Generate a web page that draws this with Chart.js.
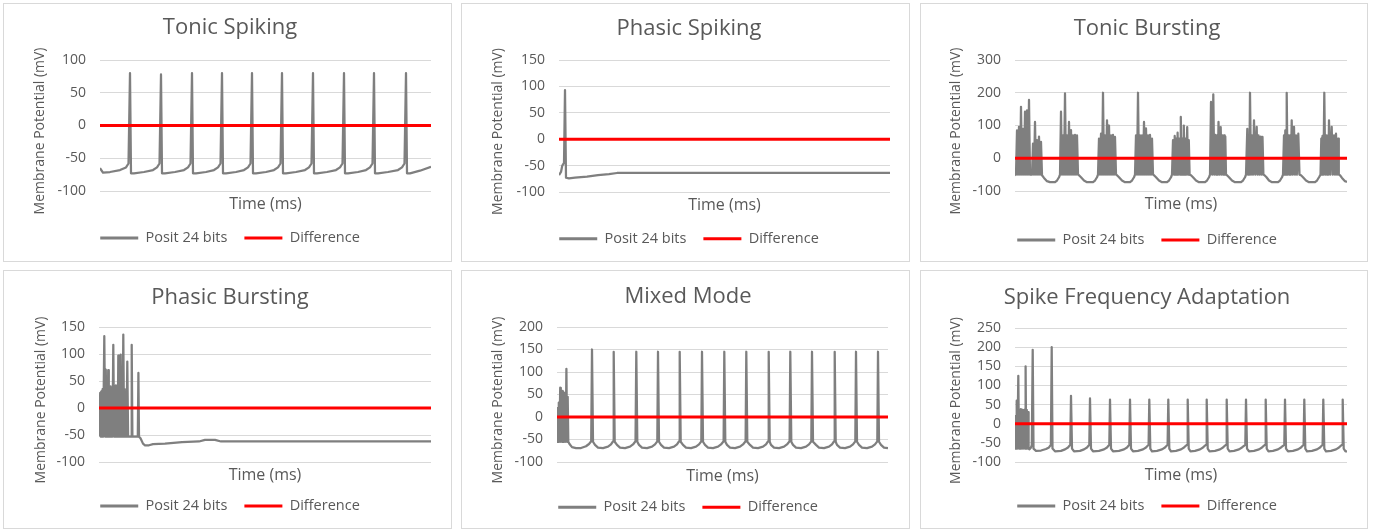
<!DOCTYPE html>
<html>
<head>
<meta charset="utf-8">
<script src="https://cdn.jsdelivr.net/npm/chart.js@4.4.0/dist/chart.umd.min.js"></script>
<style>
body { margin: 0; background: #fff; width: 1385px; height: 531px; position: relative; overflow: hidden; }
.panel { position: absolute; border: 1px solid #d9d9d9; background: #fff; }
.panel canvas { display: block; }
</style>
</head>
<body>
<div class="panel" style="left:3px;top:3px"><canvas id="c1" width="447" height="257"></canvas></div>
<div class="panel" style="left:461px;top:3px"><canvas id="c2" width="447" height="257"></canvas></div>
<div class="panel" style="left:920px;top:3px"><canvas id="c3" width="446" height="257"></canvas></div>
<div class="panel" style="left:3px;top:270px"><canvas id="c4" width="447" height="257"></canvas></div>
<div class="panel" style="left:461px;top:270px"><canvas id="c5" width="447" height="257"></canvas></div>
<div class="panel" style="left:920px;top:270px"><canvas id="c6" width="446" height="257"></canvas></div>
<script>
// [time (ms), membrane potential (mV)]
const tonicSpiking = [
  [0,-65],[3,-72],[10,-71],[20,-68],[26,-64],[28.5,-58],[30,80],[31,-73],
  [34,-73],[44,-71],[53,-68],[57,-64],[59.5,-58],[61,78],[62,-73],
  [65,-73],[75,-71],[84,-68],[88,-64],[90.5,-58],[92,80],[93,-73],
  [96,-73],[106,-71],[114,-68],[118,-64],[120.5,-58],[122,80],[123,-73],
  [126,-73],[136,-71],[144,-68],[148,-64],[150.5,-58],[152,80],[153,-73],
  [156,-73],[166,-71],[174,-68],[178,-64],[180.5,-58],[182,80],[183,-73],
  [186,-73],[196,-71],[205,-68],[209,-64],[211.5,-58],[213,80],[214,-73],
  [217,-73],[227,-71],[236,-68],[240,-64],[242.5,-58],[244,80],[245,-73],
  [248,-73],[258,-71],[266,-68],[270,-64],[272.5,-58],[274,80],[275,-73],
  [278,-73],[288,-71],[298,-68],[302,-64],[304.5,-58],[306,80],[307,-73],
  [310,-73],[320,-69],[331,-63]
];

const phasicSpiking = [
  [0,-68],[2,-62],[3.3,-50],[5,-45],[6,93],[7,-73],[10,-74],[16,-73],
  [28,-71],[39,-68],[50,-66],[58,-64],[331,-64]
];

const tonicBursting = [
  [0,-52],[1,-50],[2,85],[3,-50],[4,96],[5,-50],[6,157],[7,-50],[8,90],[9,-50],[10,142],[11,-50],
  [12,146],[13,-50],[14,178],[15,-50],[17,-50],[18,45],[19,-50],[20,111],[21,-50],[22,55],[23,-50],
  [24,66],[25,-50],[26,50],[27,-52],
  [29,-60],[32,-70],[35,-73],[40,-73],[42,-68],[44,-58],
  [45,-50],[46,142],[47,-50],[48,70],[49,-50],[50,198],[51,-50],[52,70],[53,-50],[54,111],[55,-50],
  [56,86],[57,-50],[58,70],[59,-50],[60,71],[61,-50],[62,70],[63,-50],
  [64,-52],[66,-58],[69,-68],[72,-73],[78,-73],[80,-68],[82,-58],
  [83,-50],[84,60],[85,-50],[86,75],[87,-50],[88,200],[89,-50],[90,70],[91,-50],[92,116],[93,-50],
  [94,100],[95,-50],[96,70],[97,-50],[98,71],[99,-50],[100,65],[101,-50],
  [102,-52],[104,-58],[107,-68],[110,-73],[115,-73],[117,-68],[119,-58],
  [120,-50],[121,70],[122,-50],[123,200],[124,-50],[125,70],[126,-50],[127,70],[128,-50],[129,111],
  [130,-50],[131,91],[132,-50],[133,70],[134,-50],[135,71],[136,-50],[137,60],[138,-50],
  [139,-52],[141,-58],[144,-68],[147,-73],[152,-73],[154,-68],[156,-58],
  [157,-50],[158,55],[159,-50],[159.7,68],[160.4,-50],[161.2,60],[162,-50],[162.6,78],[163.3,-50],
  [164.2,60],[165,-50],[165.8,126],[166.6,-50],[167.4,60],[168.2,-50],[168.8,100],[169.6,-50],
  [170.4,60],[171.2,-50],[172.2,95],[173,-50],[173.8,55],[174.6,-50],
  [176,-52],[178,-58],[181,-68],[184,-73],[190,-73],[192,-68],[194,-58],
  [195,-50],[196,172],[197.2,-50],[198.3,195],[199.3,-50],[200.3,71],[201.2,-50],[202,70],[202.8,-50],
  [203.5,111],[204.6,-50],[205.7,95],[206.6,-50],[207.5,70],[208.3,-50],[209,70],[209.7,-50],
  [210.3,66],[211,-50],
  [212,-52],[214,-58],[217,-68],[220,-73],[226,-73],[228,-68],[230,-58],
  [231,-50],[232.3,90],[233,-50],[233.7,70],[234.3,-50],[235,200],[236,-50],[237,70],[238,-50],
  [239,116],[240.3,-50],[241.7,96],[242.6,-50],[243.5,70],[244.6,-50],[245.7,66],[246.6,-50],
  [247.5,65],[248.4,-50],
  [249.5,-52],[251.5,-58],[254,-68],[257,-73],[263,-73],[265,-68],[267,-58],
  [268,-50],[269,70],[269.7,-50],[270.3,85],[271,-50],[271.7,200],[272.6,-50],[273.5,70],[274.3,-50],
  [275,70],[275.8,-50],[276.7,116],[277.8,-50],[279,96],[280,-50],[281,70],[282,-50],[283.3,75],
  [284.5,-50],
  [286,-52],[288,-58],[291,-68],[294,-73],[300,-73],[302,-68],[304,-58],
  [305.5,-50],[306.3,60],[306.8,-50],[307.5,68],[308.4,-50],[309.3,200],[310.3,-50],[311.3,70],
  [312,-50],[312.7,70],[313.3,-50],[314,116],[315.3,-50],[316.7,96],[317.8,-50],[319,70],[320,-50],
  [321,75],[322,-50],[323,60],[323.8,-50],
  [325,-52],[327,-60],[330,-70],[332,-72]
];

const phasicBursting = [
  [0,-53],[0.6,-53],[1.2,28],[1.8,-53],[2.4,31],[3,-53],[3.6,35],[4.2,-53],[5.3,133],[6.2,-53],
  [6.8,71],[7.4,-53],[8,40],[8.6,-53],[9.2,70],[9.8,-53],[10.4,35],[11,-53],[11.6,40],[12.2,-53],
  [12.8,33],[13.4,-53],[14.3,117],[15.1,-53],[15.7,40],[16.3,-53],[16.9,42],[17.5,-53],[18.1,35],
  [18.7,-53],[19.3,97],[19.9,-53],[20.5,40],[21.1,-53],[21.7,99],[22.3,-53],[22.9,40],[23.5,-53],
  [24.3,136],[25.1,-53],[25.7,35],[26.3,-53],[26.9,30],[27.5,-53],[28.3,86],[29.1,-53],
  [32,-53],[32.7,117],[33.4,-53],[38.8,-53],[39.4,65],[40,-53],
  [41.5,-56],[44,-66],[46,-69],[50,-69],[54,-67],[66,-66],[83,-63],[100,-62],[106,-59],[116,-59],
  [122,-62],[332,-62]
];

const mixedMode = [
  [0,-55],[0.6,20],[1.2,-55],[1.8,32],[2.4,-55],[3.2,65],[3.8,-55],[4.4,55],[5,-55],[5.7,58],
  [6.3,-55],[6.9,54],[7.5,-55],[8.1,54],[8.7,-55],[9.4,107],[10.1,-55],[10.7,45],[11.3,-55],
  [12.5,-60],[15,-67],[19,-69],[24,-69],[29,-65],[32,-60],[34.2,-54],[35,150],[36,-55],
  [38,-62],[41,-68],[46,-69],[51,-66],[54,-61],[56,-54],[56.7,145],[57.7,-55],
  [60,-62],[63,-68],[68,-69],[73,-66],[76,-61],[78.5,-54],[79.3,145],[80.3,-55],
  [82,-62],[85,-68],[90,-69],[95,-66],[98,-61],[100.3,-54],[101,145],[102,-55],
  [104,-62],[107,-68],[112,-69],[117,-66],[120,-61],[122,-54],[122.7,145],[123.7,-55],
  [126,-62],[129,-68],[134,-69],[139,-66],[142,-61],[144.3,-54],[145,145],[146,-55],
  [148,-62],[151,-68],[156,-69],[161,-66],[164,-61],[166.6,-54],[167.3,145],[168.3,-55],
  [170,-62],[173,-68],[178,-69],[183,-66],[186,-61],[188.6,-54],[189.3,145],[190.3,-55],
  [193,-62],[196,-68],[201,-69],[206,-66],[209,-61],[211,-54],[211.7,145],[212.7,-55],
  [214,-62],[217,-68],[222,-69],[227,-66],[230,-61],[232.6,-54],[233.3,145],[234.3,-55],
  [236,-62],[239,-68],[244,-69],[249,-66],[252,-61],[254.3,-54],[255,145],[256,-55],
  [259,-62],[262,-68],[267,-69],[272,-66],[275,-61],[277,-54],[277.7,145],[278.7,-55],
  [280,-62],[283,-68],[288,-69],[293,-66],[296,-61],[298.3,-54],[299,145],[300,-55],
  [302,-62],[305,-68],[310,-69],[315,-66],[318,-61],[320.3,-54],[321,145],[322,-55],
  [324,-62],[327,-68],[331,-69]
];

const spikeFreqAdaptation = [
  [0,-65],[0.5,20],[1,-65],[1.7,60],[2.4,-65],[3.3,125],[4,-65],[4.6,36],[5.2,-65],[5.8,38],
  [6.4,-65],[7,36],[7.6,-65],[8.2,35],[8.8,-65],[9.4,36],[10,-65],[10.6,150],[11.2,-65],[11.8,36],
  [12.4,-65],[13,30],[13.6,-65],[14.5,-67],[15.8,-63],[16.8,-56],[17.7,193],[18.5,-65],
  [21,-71],[26,-70],[31,-66],[34,-62],[35.9,-55],[36.7,200],[37.5,-65],
  [40,-72],[46,-71],[50,-67],[53,-62],[55.3,-55],[56,73],[57,-65],
  [59,-72],[65,-71],[69,-67],[72,-62],[74.3,-55],[75,66],[76,-65],
  [78,-72],[84,-71],[89,-67],[92,-62],[94.3,-55],[95,63],[96,-65],
  [98,-72],[104,-71],[109,-67],[112,-62],[114.3,-55],[115,63],[116,-65],
  [118,-72],[123,-71],[128,-67],[131,-62],[133.6,-55],[134.3,63],[135.3,-65],
  [137,-72],[142,-71],[147,-67],[150,-62],[152.6,-55],[153.3,63],[154.3,-65],
  [156,-72],[161,-71],[166,-67],[169,-62],[172,-55],[172.7,63],[173.7,-65],
  [175.5,-72],[180,-71],[185,-67],[188,-62],[191,-55],[191.7,63],[192.7,-65],
  [194.5,-72],[200,-71],[205,-67],[208,-62],[211,-55],[211.7,63],[212.7,-65],
  [214.5,-72],[219,-71],[224,-67],[227,-62],[230.3,-55],[231,63],[232,-65],
  [234,-72],[239,-71],[244,-67],[247,-62],[250,-55],[250.7,63],[251.7,-65],
  [253.5,-72],[258,-71],[263,-67],[266,-62],[269.3,-55],[270,63],[271,-65],
  [273,-72],[278,-71],[283,-67],[286,-62],[288.6,-55],[289.3,63],[290.3,-65],
  [292,-72],[297,-71],[302,-67],[305,-62],[307.6,-55],[308.3,63],[309.3,-65],
  [311,-72],[316,-71],[321,-67],[324,-62],[327,-55],[327.7,63],[328.7,-65],
  [330.5,-72],[332,-72]
];

// Difference series (posit minus reference) is zero over the whole run
const diffTonicSpiking = [[0,0],[331,0]];
const diffPhasicSpiking = [[0,0],[331,0]];
const diffTonicBursting = [[0,0],[332,0]];
const diffPhasicBursting = [[0,0],[332,0]];
const diffMixedMode = [[0,0],[331,0]];
const diffSpikeFreqAdaptation = [[0,0],[332,0]];

// y-axis tick labels
const ticksTonicSpiking = [-100, -50, 0, 50, 100];
const ticksPhasicSpiking = [-100, -50, 0, 50, 100, 150];
const ticksTonicBursting = [-100, 0, 100, 200, 300];
const ticksPhasicBursting = [-100, -50, 0, 50, 100, 150];
const ticksMixedMode = [-100, -50, 0, 50, 100, 150, 200];
const ticksSpikeFreqAdaptation = [-100, -50, 0, 50, 100, 150, 200, 250];

const seriesNames = ['Posit 24 bits', 'Difference'];

Chart.defaults.font.family = "'Open Sans', sans-serif";
Chart.defaults.color = '#595959';

const TEXT = '#595959';

// box = plot area and text centres in canvas pixels
function makeChart(id, title, trace, diff, ticks, box) {
    const canvas = document.getElementById(id);
    const W = canvas.width, H = canvas.height;
    const titleLH = 22 * 1.2, yTitleLH = 14 * 1.2, xTitleLH = 16 * 1.2;
    const legendPad = 17, legendFont = 14.5;
    const padL = 2 * box.legendX - box.r;
    const padR = W - box.r;
    const legendTop = box.legendY - legendPad - legendFont / 2;
    const legendH = legendFont + legendPad + 10;

    return new Chart(canvas, {
        type: 'line',
        data: {
            datasets: [{
                label: seriesNames[0],
                data: trace.map(p => ({x: p[0], y: p[1]})),
                borderColor: '#7f7f7f',
                backgroundColor: '#7f7f7f',
                borderWidth: 2.25,
                pointRadius: 0,
                order: 1
            }, {
                label: seriesNames[1],
                data: diff.map(p => ({x: p[0], y: p[1]})),
                borderColor: '#ff0000',
                backgroundColor: '#ff0000',
                borderWidth: 3,
                pointRadius: 0,
                order: 0
            }]
        },
        options: {
            responsive: false,
            animation: false,
            devicePixelRatio: 1,
            layout: {
                padding: {left: padL, right: padR, top: 0, bottom: H - legendTop - legendH}
            },
            elements: {
                line: {tension: 0, borderJoinStyle: 'round'}
            },
            plugins: {
                title: {
                    display: true,
                    text: title,
                    color: TEXT,
                    font: {size: 22, weight: 'normal'},
                    padding: {top: box.titleY - titleLH / 2, bottom: box.t - box.titleY - titleLH / 2}
                },
                legend: {
                    position: 'bottom',
                    labels: {
                        boxWidth: 38,
                        boxHeight: 3,
                        padding: legendPad,
                        color: TEXT,
                        font: {size: legendFont},
                        sort: (a, b) => a.datasetIndex - b.datasetIndex,
                        generateLabels: chart => Chart.defaults.plugins.legend.labels.generateLabels(chart)
                            .map(item => Object.assign(item, {lineWidth: 0}))
                    }
                },
                tooltip: {enabled: false}
            },
            scales: {
                x: {
                    type: 'linear',
                    min: 0,
                    max: trace[trace.length - 1][0],
                    grid: {display: false},
                    border: {display: false},
                    ticks: {display: false},
                    title: {
                        display: true,
                        text: 'Time (ms)',
                        color: TEXT,
                        font: {size: 16},
                        padding: {top: 0, bottom: legendTop - box.xTitleY - xTitleLH / 2}
                    },
                    afterFit: s => { s.height = legendTop - box.b; }
                },
                y: {
                    min: ticks[0],
                    max: ticks[ticks.length - 1],
                    grid: {color: '#d9d9d9', drawTicks: false},
                    border: {display: false},
                    ticks: {
                        stepSize: ticks[1] - ticks[0],
                        autoSkip: false,
                        padding: 14,
                        color: TEXT,
                        font: {size: 14}
                    },
                    title: {
                        display: true,
                        text: 'Membrane Potential (mV)   ',
                        color: TEXT,
                        font: {size: 14},
                        padding: {top: box.yTitleX - padL - yTitleLH / 2, bottom: 0}
                    },
                    afterFit: s => { s.width = box.l - padL; }
                }
            }
        }
    });
}

makeChart('c1', 'Tonic Spiking', tonicSpiking, diffTonicSpiking, ticksTonicSpiking,
    {l: 96, r: 427, t: 56, b: 187, titleY: 24, xTitleY: 200, legendY: 234, yTitleX: 36, legendX: 226});
makeChart('c2', 'Phasic Spiking', phasicSpiking, diffPhasicSpiking, ticksPhasicSpiking,
    {l: 97, r: 428, t: 56, b: 188, titleY: 25, xTitleY: 201, legendY: 234.7, yTitleX: 36, legendX: 227});
makeChart('c3', 'Tonic Bursting', tonicBursting, diffTonicBursting, ticksTonicBursting,
    {l: 94, r: 426, t: 56, b: 187, titleY: 25, xTitleY: 200, legendY: 236, yTitleX: 34.7, legendX: 226});
makeChart('c4', 'Phasic Bursting', phasicBursting, diffPhasicBursting, ticksPhasicBursting,
    {l: 95, r: 427, t: 56, b: 191, titleY: 26.3, xTitleY: 204.7, legendY: 235, yTitleX: 36.7, legendX: 226});
makeChart('c5', 'Mixed Mode', mixedMode, diffMixedMode, ticksMixedMode,
    {l: 95, r: 426, t: 56, b: 191, titleY: 25.7, xTitleY: 205.7, legendY: 236.3, yTitleX: 35.7, legendX: 226});
makeChart('c6', 'Spike Frequency Adaptation', spikeFreqAdaptation, diffSpikeFreqAdaptation, ticksSpikeFreqAdaptation,
    {l: 94, r: 426, t: 57, b: 191, titleY: 26.3, xTitleY: 204.7, legendY: 235, yTitleX: 34.7, legendX: 226});
</script>
</body>
</html>
